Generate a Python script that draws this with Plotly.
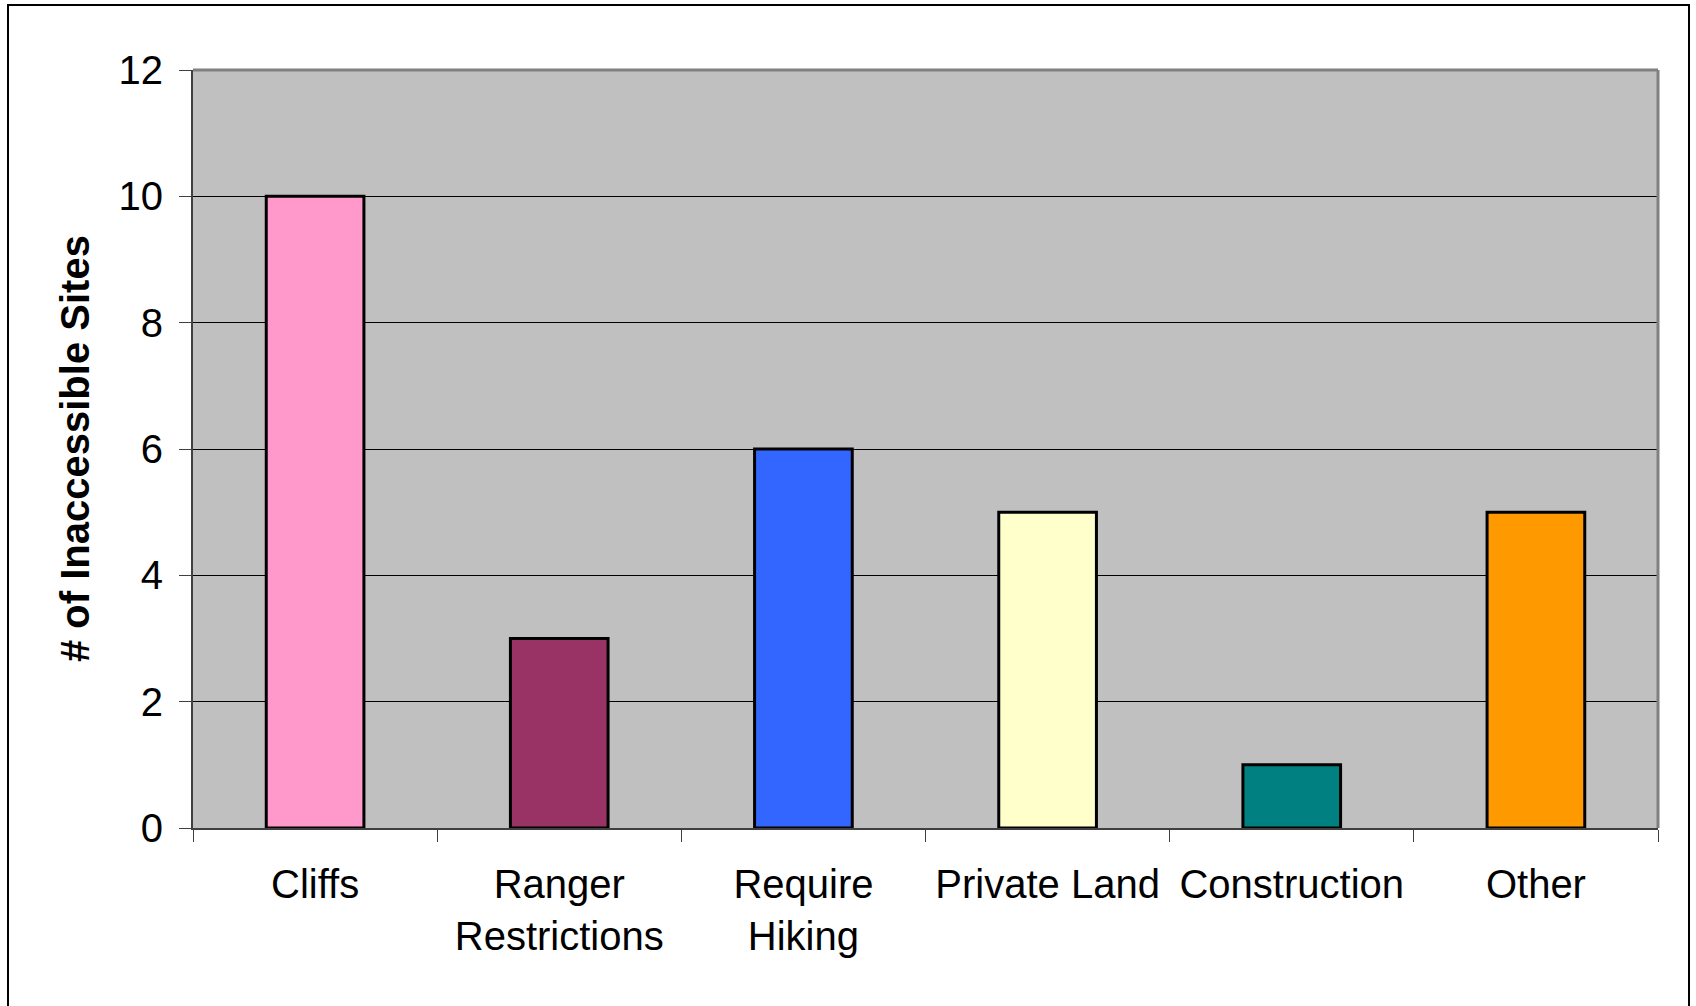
import plotly.graph_objects as go

categories = ["Cliffs", "Ranger<br>Restrictions", "Require<br>Hiking", "Private Land", "Construction", "Other"]
values = [10, 3, 6, 5, 1, 5]
bar_colors = ["#FF99CC", "#993366", "#3366FF", "#FFFFCC", "#008080", "#FF9900"]
y_ticks = [0, 2, 4, 6, 8, 10, 12]
y_title = "# of Inaccessible Sites"

W, H = 1696, 1006
L, R, T, B = 193, 38, 70, 178
pw, ph = W - L - R, H - T - B

def px_to_paper_x(px):
    return (px - L) / pw

def px_to_paper_y(py):
    return (H - B - py) / ph

FONT = "Liberation Sans, Arial, sans-serif"

fig = go.Figure(go.Bar(
    x=categories, y=values,
    marker=dict(color=bar_colors, line=dict(color="black", width=3)),
    width=0.40,
))

fig.update_layout(
    width=W, height=H,
    margin=dict(l=L, r=R, t=T, b=B),
    paper_bgcolor="white",
    plot_bgcolor="#C0C0C0",
    showlegend=False,
    font=dict(family=FONT, color="black", size=40),
)

fig.update_xaxes(
    showgrid=False, zeroline=False,
    showline=True, linecolor="#404040", linewidth=2,
    ticks="outside", tickson="boundaries", ticklen=12, tickcolor="#404040", tickwidth=1,
    tickfont=dict(size=40, family=FONT, color="black"),
    ticklabelstandoff=20,
)
fig.update_yaxes(
    range=[0, 12], tickvals=y_ticks,
    showgrid=True, gridcolor="black", gridwidth=1,
    zeroline=False,
    showline=True, linecolor="#404040", linewidth=2,
    ticks="outside", ticklen=12, tickcolor="#404040", tickwidth=1,
    tickfont=dict(size=40, family=FONT, color="black"),
    ticklabelstandoff=8,
)

# plot area top/right gray border
fig.add_shape(type="line", xref="paper", yref="paper", x0=0, x1=1, y0=1, y1=1,
              line=dict(color="#808080", width=3))
fig.add_shape(type="line", xref="paper", yref="paper", x0=1, x1=1, y0=0, y1=1,
              line=dict(color="#808080", width=3))

# outer chart border (left, top, right)
x_l, x_r, y_t, y_b = px_to_paper_x(8), px_to_paper_x(1689), px_to_paper_y(5), px_to_paper_y(1020)
fig.add_shape(type="path", xref="paper", yref="paper",
              path=f"M {x_l} {y_b} L {x_l} {y_t} L {x_r} {y_t} L {x_r} {y_b}",
              line=dict(color="black", width=2))

fig.add_annotation(
    text=f"<b>{y_title}</b>", textangle=-90,
    xref="paper", yref="paper", x=px_to_paper_x(75), y=0.5,
    xanchor="center", yanchor="middle", showarrow=False,
    font=dict(size=40, family=FONT, color="black"),
)

fig.write_html("out.html", config={"displayModeBar": False},
               post_script="document.body.style.margin='0';document.body.style.overflow='hidden';")
